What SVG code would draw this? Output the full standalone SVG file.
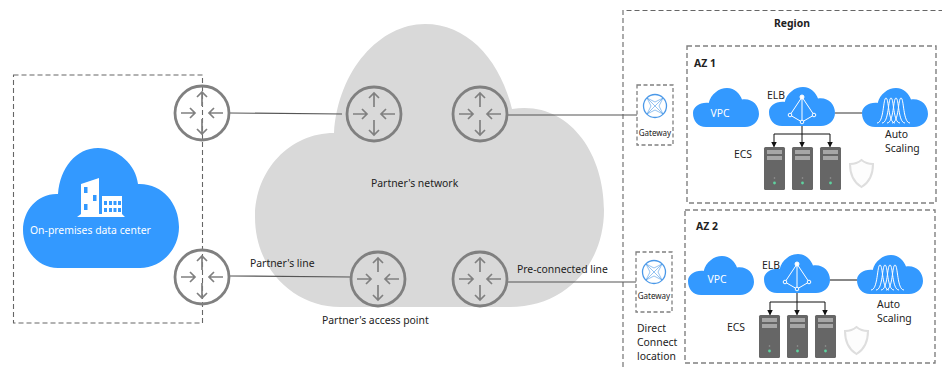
<svg xmlns="http://www.w3.org/2000/svg" xmlns:xlink="http://www.w3.org/1999/xlink" width="943" height="367" viewBox="0 0 943 367">
<style>
text{font-family:"Noto Sans","Open Sans","DejaVu Sans",sans-serif;font-size:10.400px;fill:#222}
.w{fill:#fff}
.b{font-weight:700}
.box{fill:none;stroke:#666;stroke-width:1.100;stroke-dasharray:5 3}
.az{fill:none;stroke:#808080;stroke-width:1.400;stroke-dasharray:5 3}
.gw{fill:#fff;stroke:#808080;stroke-width:1.300;stroke-dasharray:4 2.500}
.ln{fill:none;stroke:#555;stroke-width:1.200}
.cn{fill:none;stroke:#111;stroke-width:1}
.blue{fill:#3399ff}
</style>
<defs>
<marker id="ah" markerWidth="6" markerHeight="6" refX="5" refY="3" orient="auto"><path d="M0 0L6 3L0 6Z" fill="#111"/></marker>
<path id="sc" d="M15.700 15C18 6 26 0 34 0C42 0 47 6 49 11.500C59 10 66 17 66 26C66 33 60 39 52 39H13C5 39 0 33 0 25C0 19 7 14 15.700 15Z" fill="#3399ff"/>
<g id="router" fill="none" stroke="#808080">
<circle r="27" stroke-width="2.800"/>
<g stroke-width="1.700">
<path d="M0-7V-21M-5-16L0-21L5-16"/><path d="M0 6V21M-5 16L0 21L5 16"/>
<path d="M-21 0H-7M-12-5L-7 0L-12 5"/><path d="M21 0H7M12-5L7 0L12 5"/>
</g>
</g>
<g id="elbi" fill="none" stroke="#fff" stroke-width="1">
<path d="M0 0L-12 18L0 25L12 18ZM0 0V25"/>
<circle r="2" fill="#fff"/><circle cx="-12" cy="18" r="1.800" fill="#3399ff"/><circle cx="12" cy="18" r="1.800" fill="#3399ff"/><circle cy="25" r="1.800" fill="#3399ff"/>
</g>
<g id="asi" fill="none" stroke="#fff" stroke-width="1">
<path d="M0 25C7 25 6 0 9 0C12 0 11 25 18 25"/><path d="M5 25C12 25 11 0 14 0C17 0 16 25 23 25"/><path d="M10 25C17 25 16 0 19 0C22 0 21 25 28 25"/><path d="M15 25C22 25 21 0 24 0C27 0 26 25 33 25"/>
</g>
<g id="srv">
<rect width="21" height="43" rx="1.500" fill="#666"/>
<rect x="3" y="3" width="15" height="4" fill="#a6a6a6"/><rect x="3" y="9" width="15" height="4" fill="#a6a6a6"/>
<circle cx="10.500" cy="31" r=".8" fill="#999"/><circle cx="10.500" cy="36" r="1.400" fill="#5fd3a0"/>
</g>
<path id="sh" d="M11.500 0C15 3 19 4 23 4C23 14 20 22 11.500 27C3 22 0 14 0 4C4 4 8 3 11.500 0Z" fill="#fdfdfd" stroke="#dedede" stroke-width="2"/>
<g id="gwi" fill="none" stroke="#4a98e8">
<circle r="11.500" stroke-width="1.300"/>
<path d="M-8-8L8 8M-8 8L8-8M-8-8L0-4L8-8L4 0L8 8L0 4L-8 8L-4 0Z" stroke-width=".6"/>
</g>
</defs>

<g id="partner-network">
<path d="M334 133C338 70 380 24 425 24C468 24 500 60 512 109C566 100 604 150 604 210C604 265 565 307 510 307H340C295 307 255 270 255 217C255 170 290 133 334 133Z" fill="#d9d9d9"/>
<text x="371" y="187">Partner's network</text>
</g>

<g id="onprem">
<rect class="box" x="13.500" y="75" width="189" height="248"/>
<path class="blue" d="M58 194C60 168 76 148 98 148C118 148 136 165 138 184C162 183 179 203 179 227C179 250 161 268 140 268H58C38 268 23 250 23 230C23 210 38 193 58 194Z"/>
<path fill="#fff" d="M81 184L99 178V214H102V196H122V214L125 217H77L81 214Z"/>
<g class="blue">
<rect x="84" y="187" width="3.500" height="6"/><rect x="93" y="195" width="3.500" height="6"/><rect x="84" y="204" width="3.500" height="6"/>
<rect x="104" y="201" width="3" height="4"/><rect x="109" y="201" width="3" height="4"/><rect x="113.500" y="201" width="3" height="4"/><rect x="118" y="201" width="3" height="4"/>
<rect x="104" y="208" width="3" height="4"/><rect x="109" y="208" width="3" height="4"/><rect x="113.500" y="208" width="3" height="4"/><rect x="118" y="208" width="3" height="4"/>
</g>
<text class="w" x="30" y="234">On-premises data center</text>
</g>

<g id="connectors">
<path class="ln" d="M230 113L342 114"/>
<path class="ln" d="M508 115H637"/>
<path class="ln" d="M230 276L350 277"/>
<path class="ln" d="M508 282H637"/>
<path class="ln" d="M835 113H862" stroke-width="1.500"/>
<path class="cn" d="M830 280H857"/>
<path class="cn" d="M802 126V146.500" marker-end="url(#ah)"/>
<path class="cn" d="M802 134H830V146.500" marker-end="url(#ah)"/>
<path class="cn" d="M802 134H774V146.500" marker-end="url(#ah)"/>
<path class="cn" d="M797 293V314.500" marker-end="url(#ah)"/>
<path class="cn" d="M797 302H825V314.500" marker-end="url(#ah)"/>
<path class="cn" d="M797 302H770V314.500" marker-end="url(#ah)"/>
</g>

<g id="router-1"><use xlink:href="#router" href="#router" x="202" y="113"/></g>
<g id="router-2"><use xlink:href="#router" href="#router" x="202" y="277"/></g>
<g id="router-3"><use xlink:href="#router" href="#router" x="374" y="114"/></g>
<g id="router-4"><use xlink:href="#router" href="#router" x="480" y="114"/></g>
<g id="router-5"><use xlink:href="#router" href="#router" x="378" y="279"/></g>
<g id="router-6"><use xlink:href="#router" href="#router" x="480" y="279"/></g>

<g id="line-labels">
<text x="250" y="267">Partner's line</text>
<text x="517" y="273">Pre-connected line</text>
<text x="322" y="324">Partner's access point</text>
</g>

<g id="region">
<path class="box" d="M623 367V10.500H942"/>
<text class="b" x="792" y="27" text-anchor="middle">Region</text>
</g>

<g id="gateway-1">
<rect class="gw" x="637" y="85" width="36" height="60"/>
<use href="#gwi" x="655" y="106"/>
<text x="655" y="136" text-anchor="middle" style="font-size:8px">Gateway</text>
</g>
<g id="gateway-2">
<rect class="gw" x="636" y="252" width="36" height="60"/>
<use href="#gwi" x="654" y="272"/>
<text x="654" y="299" text-anchor="middle" style="font-size:8px">Gateway</text>
<text x="637" y="332">Direct</text><text x="637" y="346">Connect</text><text x="637" y="360">location</text>
</g>

<g id="az-1">
<rect class="az" x="687" y="46" width="249" height="157"/>
<text class="b" x="694" y="67">AZ 1</text>
<g id="vpc-1"><use href="#sc" x="693" y="88"/><text class="w" x="720" y="117" text-anchor="middle">VPC</text></g>
<g id="elb-1"><use href="#sc" x="769" y="87"/><use href="#elbi" x="802" y="97"/><text x="767" y="99">ELB</text></g>
<g id="as-1"><use href="#sc" x="862" y="88"/><use href="#asi" x="877" y="98"/><text x="885" y="138">Auto</text><text x="885" y="152">Scaling</text></g>
<g id="ecs-1"><text x="734" y="158">ECS</text><use href="#srv" x="764" y="147"/><use href="#srv" x="792" y="147"/><use href="#srv" x="820" y="147"/></g>
<g id="shield-1"><use href="#sh" x="850" y="160"/></g>
</g>

<g id="az-2">
<rect class="az" x="685" y="210" width="250" height="153"/>
<text class="b" x="696" y="230">AZ 2</text>
<g id="vpc-2"><use href="#sc" x="688" y="256"/><text class="w" x="717" y="283" text-anchor="middle">VPC</text></g>
<g id="elb-2"><use href="#sc" x="764" y="254"/><use href="#elbi" x="797" y="264"/><text x="762" y="269">ELB</text></g>
<g id="as-2"><use href="#sc" x="857" y="255"/><use href="#asi" x="871" y="265"/><text x="877" y="308">Auto</text><text x="877" y="322">Scaling</text></g>
<g id="ecs-2"><text x="727" y="331">ECS</text><use href="#srv" x="759" y="315"/><use href="#srv" x="787" y="315"/><use href="#srv" x="815" y="315"/></g>
<g id="shield-2"><use href="#sh" x="845" y="327"/></g>
</g>
</svg>
